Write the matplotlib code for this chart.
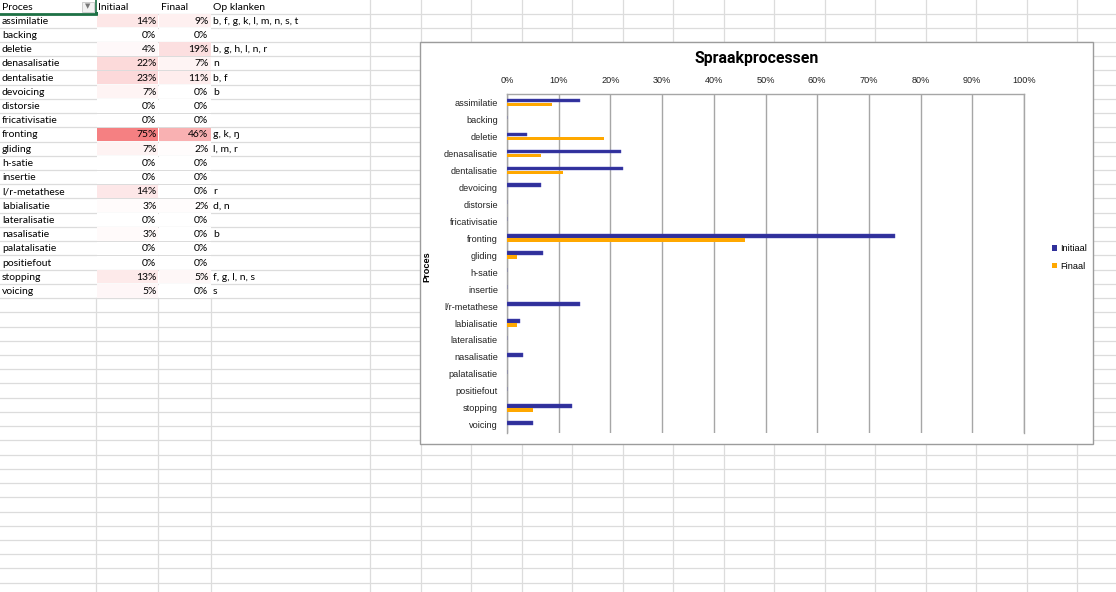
import math
import matplotlib
matplotlib.use('Agg')
import matplotlib.pyplot as plt
from matplotlib import font_manager
from matplotlib.patches import Rectangle, Patch

# data from the sheet
processen = ['assimilatie', 'backing', 'deletie', 'denasalisatie', 'dentalisatie',
             'devoicing', 'distorsie', 'fricativisatie', 'fronting', 'gliding',
             'h-satie', 'insertie', 'l/r-metathese', 'labialisatie', 'lateralisatie',
             'nasalisatie', 'palatalisatie', 'positiefout', 'stopping', 'voicing']
initiaal = [14.2, 0, 3.9, 22.1, 22.5, 6.5, 0, 0, 75.0, 7.0,
            0, 0, 14.1, 2.5, 0, 3.0, 0, 0, 12.5, 5.1]
finaal = [8.8, 0, 18.8, 6.6, 10.9, 0, 0, 0, 46.1, 1.9,
          0, 0, 0, 2.0, 0, 0, 0, 0, 5.0, 0]
klanken = ['b, f, g, k, l, m, n, s, t', '', 'b, g, h, l, n, r', 'n', 'b, f',
           'b', '', '', 'g, k, ŋ', 'l, m, r', '', '', 'r', 'd, n', '', 'b', '', '',
           'f, g, l, n, s', 's']
headers = ['Proces', 'Initiaal', 'Finaal', 'Op klanken']
ticks = [0, 10, 20, 30, 40, 50, 60, 70, 80, 90, 100]

# pick a narrow font for the chart if there is one
installed = {f.name for f in font_manager.fontManager.ttflist}
if 'Liberation Sans Narrow' in installed:
    narrow = ['Liberation Sans Narrow', 'DejaVu Sans']
    chart_size = 7.6
else:
    narrow = ['Liberation Sans', 'DejaVu Sans']
    chart_size = 6.6

W, H = 1116, 592
fig = plt.figure(figsize=(W / 100, H / 100), dpi=100)

# ---- spreadsheet background ----
bg = fig.add_axes([0, 0, 1, 1])
bg.set_xlim(0, W)
bg.set_ylim(H, 0)
bg.axis('off')

grid_col = '#dcdcdc'
row_h = 14.23
row0 = 13.5
n_rows = len(processen)
table_bottom = row0 + n_rows * row_h
col_x = [0, 96, 158, 211, 370]
x = 370
while x < W:
    x += 50.5
    col_x.append(x)

# horizontal grid lines
y = row0
while y < H:
    bg.plot([0, W], [y, y], color=grid_col, lw=0.9, zorder=1)
    y += row_h
# vertical grid lines
for cx in col_x[1:]:
    y_start = table_bottom if cx < 300 else 0
    bg.plot([cx, cx], [y_start, H], color=grid_col, lw=0.9, zorder=1)


def pct(v):
    return '%d%%' % math.floor(v + 0.5)


def heat(v):
    t = v / max(initiaal + finaal)
    c1 = (1.0, 1.0, 1.0)
    c2 = (245 / 255, 128 / 255, 130 / 255)
    return tuple(a + (b - a) * t for a, b in zip(c1, c2))


txt_font = dict(family=['Lato', 'DejaVu Sans'], fontsize=7.5, color='#000000')

# header row
hx = [2, 98, 161, 213]
for h, xx in zip(headers, hx):
    bg.text(xx, row0 / 2 + 0.5, h, ha='left', va='center', zorder=5, **txt_font)
bg.add_patch(Rectangle((82, 1.5), 12, 10.5, facecolor='#f2f2f2', edgecolor='#c8c8c8',
                       lw=0.6, zorder=4))
bg.text(88, 6.5, '▼', ha='center', va='center', fontsize=5, color='#777777', zorder=5)
bg.plot([0, 96], [row0, row0], color='#1e7145', lw=2, zorder=6)
bg.plot([96, 96], [0, row0], color='#1e7145', lw=1.2, zorder=6)
bg.add_patch(Rectangle((94.5, row0 - 1.8), 3.6, 3.6, facecolor='#1e7145', zorder=7))

for i, p in enumerate(processen):
    top = row0 + i * row_h
    cy = top + row_h / 2 + 0.5
    bg.add_patch(Rectangle((96.5, top + 0.5), 61, row_h - 1, facecolor=heat(initiaal[i]),
                           edgecolor='none', zorder=2))
    bg.add_patch(Rectangle((158.5, top + 0.5), 52, row_h - 1, facecolor=heat(finaal[i]),
                           edgecolor='none', zorder=2))
    bg.text(2, cy, p, ha='left', va='center', zorder=5, **txt_font)
    bg.text(156.5, cy, pct(initiaal[i]), ha='right', va='center', zorder=5, **txt_font)
    bg.text(208.5, cy, pct(finaal[i]), ha='right', va='center', zorder=5, **txt_font)
    bg.text(213, cy, klanken[i], ha='left', va='center', zorder=5, **txt_font)

# chart frame
bg.add_patch(Rectangle((420, 42), 673, 402, facecolor='white', edgecolor='#9c9c9c',
                       lw=1.0, zorder=8))

# ---- chart ----
ax = fig.add_axes([507 / W, 1 - 433.3 / H, 517 / W, (433.3 - 94) / H])
ax.set_zorder(10)
pos = list(range(n_rows))
ax.barh([p - 0.12 for p in pos], [v / 100 for v in initiaal], height=0.21,
        color='#30309a', edgecolor='#4848b8', lw=0.3, label='Initiaal', zorder=3)
ax.barh([p + 0.12 for p in pos], [v / 100 for v in finaal], height=0.21,
        color='#ffa800', edgecolor='none', label='Finaal', zorder=3)
ax.set_xlim(0, 1)
ax.set_ylim(n_rows - 0.5, -0.5)
ax.set_xticks([t / 100 for t in ticks])
ax.set_xticklabels(['%d%%' % t for t in ticks], family=narrow, fontsize=chart_size)
ax.set_yticks(pos)
ax.set_yticklabels(processen, family=narrow, fontsize=chart_size)
ax.xaxis.tick_top()
ax.tick_params(axis='x', length=0, pad=6.5, colors='#222222')
ax.tick_params(axis='y', length=0, pad=6.5, colors='#222222')
ax.grid(axis='x', color='#a6a6a6', lw=1.0, zorder=1)
for s in ['left', 'top', 'right']:
    ax.spines[s].set_color('#a6a6a6')
    ax.spines[s].set_linewidth(1.0)
ax.spines['bottom'].set_visible(False)
ax.set_ylabel('Proces', family=narrow, fontsize=chart_size, fontweight='bold')
ax.yaxis.set_label_coords(-0.146, 0.49)

fig.text(757 / W, 1 - 59 / H, 'Spraakprocessen', ha='center', va='center',
         family=['Roboto', 'DejaVu Sans'], fontsize=11.4, fontweight='bold', zorder=20)

handles = [Patch(facecolor='#30309a', label='Initiaal'), Patch(facecolor='#ffa800', label='Finaal')]
fig.legend(handles=handles, loc='center left', bbox_to_anchor=(1044 / W, 1 - 257.5 / H),
           frameon=False, handlelength=0.55, handleheight=0.55, handletextpad=0.35,
           labelspacing=0.9, prop={'family': narrow, 'size': chart_size})

fig.savefig('out.png', dpi=100)
